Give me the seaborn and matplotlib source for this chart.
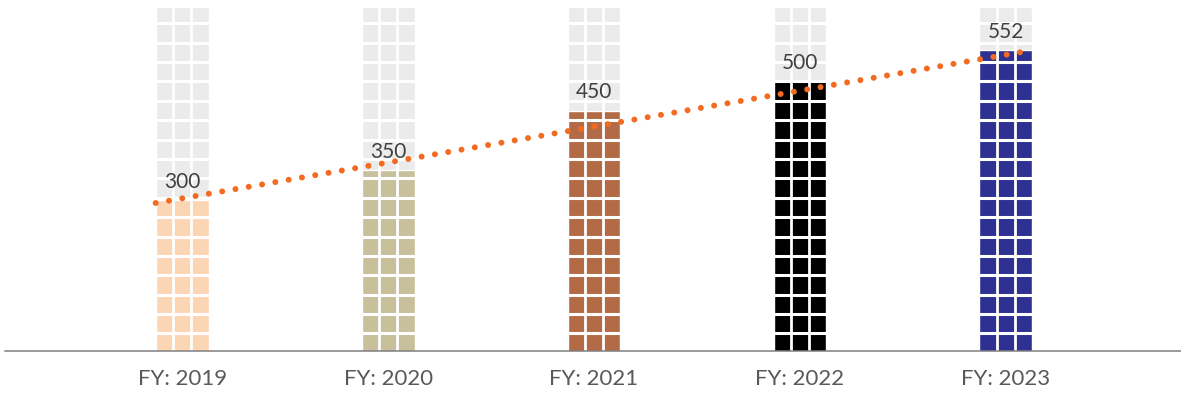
# Fiscal-year bar chart with tiled bars and a dotted trend line
import numpy as np
import pandas as pd
import matplotlib
matplotlib.use("Agg")
import matplotlib.pyplot as plt
import seaborn as sns

# data
years = ["FY: 2019", "FY: 2020", "FY: 2021", "FY: 2022", "FY: 2023"]
values = [300, 350, 450, 500, 552]
bar_colors = ["#FCD5B5", "#C8C09B", "#B36B45", "#000000", "#2E3192"]
max_value = 625
y_floor = 47

sns.set_theme(style="white")
plt.rcParams["font.family"] = ["Lato", "DejaVu Sans"]

df = pd.DataFrame({"year": years, "value": values, "full": [max_value] * len(years)})

fig = plt.figure(figsize=(11.81, 3.94), dpi=100)
ax = fig.add_axes([5 / 1181, 43.5 / 394, 1176 / 1181, 343.8 / 394])

bar_w = 0.257

# background (gray) bars, then the value bars
sns.barplot(data=df, x="year", y="full", color="#EBEBEB", width=bar_w,
            saturation=1, ax=ax, zorder=1)
sns.barplot(data=df, x="year", y="value", hue="year", palette=bar_colors,
            width=bar_w, saturation=1, legend=False, ax=ax, zorder=2)

ax.set_xlim(-0.86, 4.85)
ax.set_ylim(y_floor, max_value)

# white tile grid inside the bars
xs = np.arange(len(years))
for x in xs:
    for frac in (1 / 3, 2 / 3):
        ax.vlines(x - bar_w / 2 + bar_w * frac, y_floor, max_value,
                  color="white", lw=2.0, zorder=3)
for y in np.arange(y_floor + 28.6, max_value, 32.6):
    ax.hlines(y, -0.86, 4.85, color="white", lw=2.2, zorder=3)

# dotted trend line from first bar top-left to last bar top-right
ax.plot([xs[0] - bar_w / 2, xs[-1] + bar_w / 2], [values[0] - 5, values[-1]],
        color="#F26B21", lw=4.3, linestyle=(0, (0.01, 2.25)),
        dash_capstyle="round", zorder=4)

# value labels
for x, v in zip(xs, values):
    ax.annotate(str(v), (x, v), xytext=(0, 9), textcoords="offset points",
                ha="center", va="baseline", fontsize=15,
                color="#404040", zorder=5)

ax.set_xlabel("")
ax.set_ylabel("")
ax.set_yticks([])
ax.tick_params(axis="x", length=0, pad=13, labelsize=16, labelcolor="#595959")
for side in ["top", "left", "right"]:
    ax.spines[side].set_visible(False)
ax.spines["bottom"].set_color("#7F7F7F")
ax.spines["bottom"].set_linewidth(1.1)
ax.spines["bottom"].set_zorder(6)

plt.savefig("out.png", dpi=100)
